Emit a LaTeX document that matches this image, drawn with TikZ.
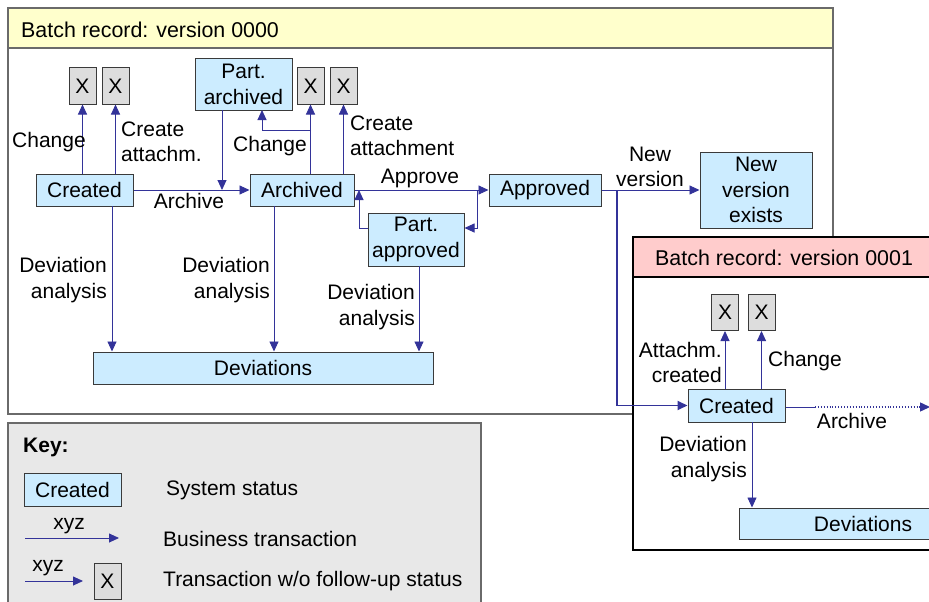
\documentclass[tikz,border=0pt]{standalone}
\usepackage{fontspec}
\setmainfont{Liberation Sans}
\usetikzlibrary{arrows.meta,calc}
\definecolor{statblue}{HTML}{CCECFF}
\definecolor{xgray}{HTML}{DDDDDD}
\definecolor{hdyellow}{HTML}{FFFFCC}
\definecolor{hdpink}{HTML}{FFCCCC}
\definecolor{keygray}{HTML}{E8E8E8}
\definecolor{arrblue}{HTML}{333399}
\definecolor{nodeborder}{HTML}{3A3A3A}
\definecolor{framegray}{HTML}{6A6A6A}
\begin{document}
\begin{tikzpicture}[x=1pt,y=-1pt,
  every node/.style={font=\fontsize{21}{25.5}\selectfont, inner sep=0pt},
  stat/.style={draw=nodeborder, fill=statblue, line width=1pt, minimum height=32pt, align=center},
  xbox/.style={draw=nodeborder, fill=xgray, line width=1pt, minimum width=27pt, minimum height=36pt},
  arr/.style={draw=arrblue, line width=0.9pt, -{Triangle[length=10pt,width=9pt]}},
  conn/.style={draw=arrblue, line width=0.9pt},
  lblr/.style={anchor=east, align=right},
  lbll/.style={anchor=west, align=left},
  lblc/.style={align=center},
  titlefont/.style={font=\fontsize{21.4}{25}\selectfont}
]
\clip (0,0) rectangle (929,602);
% ---- frame version 0000
\fill[hdyellow] (8,8) rectangle (833,48);
\draw[framegray, line width=1.4pt] (8,8) rectangle (833,414);
\draw[framegray, line width=1.4pt] (8,48) -- (833,48);
\node[anchor=west, titlefont] (t0) at (21,30) {Batch record: version 0000};
% ---- frame version 0001
\fill[white] (633,237) rectangle (950,550);
\fill[hdpink] (633,237) rectangle (950,277);
\draw[black, line width=1.2pt] (950,237) -- (633,237) -- (633,550) -- (950,550);
\draw[black, line width=1.2pt] (633,277) -- (950,277);
\node[anchor=west, titlefont] (t1) at (655,258) {Batch record: version 0001};
% ---- key frame
\draw[framegray, fill=keygray, line width=1.2pt] (8,423) rectangle (481,615);

% ---- nodes, version 0000
\node[stat, minimum width=97pt] (C1) at (84.5,190) {Created};
\node[stat, minimum width=104pt] (Ar) at (302,190) {Archived};
\node[stat, minimum width=97pt, minimum height=51pt] (PA) at (243.5,84.5) {Part.\\archived};
\node[xbox] (X1) at (82.5,86) {X};
\node[xbox] (X2) at (115.5,86) {X};
\node[xbox] (X3) at (310.5,86) {X};
\node[xbox] (X4) at (343.5,86) {X};
\node[stat, minimum width=112pt] (Ap) at (545,190) {Approved};
\node[stat, minimum width=96pt, minimum height=53pt] (PAp) at (416,239.5) {Part.\\approved};
\node[stat, minimum width=112pt, minimum height=76pt] (NV) at (756,190) {New\\version\\exists};
\node[stat, minimum width=340pt] (D1) at (263,368) {Deviations};

% ---- nodes, version 0001
\node[xbox] (X5) at (725,312.5) {X};
\node[xbox] (X6) at (761.5,312.5) {X};
\node[stat, minimum width=97pt, minimum height=33pt] (C2) at (736.5,405.5) {Created};
\node[stat, minimum width=248pt, minimum height=31pt] (D2) at (863,523.5) {Deviations};

% ---- helper coordinates
\coordinate (paDrop) at (222,110);
\coordinate (chgBr) at (311,130);
\coordinate (chgUp) at (262,110);
\coordinate (apBr) at (477,190);
\coordinate (papBack) at (359,190);
\coordinate (nvBr) at (617,190);
\coordinate (arcEnd) at (930,407);
\coordinate (arcDot) at (815,407);
\coordinate (d1a) at (112,206);
\coordinate (d1b) at (274,206);
\coordinate (d1c) at (419,266);
\coordinate (d2a) at (752,422);

% ---- connectors, version 0000
\draw[arr] (C1.north -| X1) -- (X1.south);
\draw[arr] (C1.north -| X2) -- (X2.south);
\draw[arr] (C1.east) -- (Ar.west);
\draw[arr] (paDrop) -- (paDrop |- C1.east);
\draw[arr] (Ar.north -| X3) -- (X3.south);
\draw[conn] (chgBr) -| ($(chgUp)+(0,10)$);
\draw[arr] ($(chgUp)+(0,10)$) -- (chgUp);
\draw[arr] (Ar.north -| X4) -- (X4.south);
\draw[arr] (Ar.east) -- (Ap.west);
\draw[arr] (apBr) |- ([yshift=11.5pt]PAp.east);
\draw[arr] ([yshift=11.5pt]PAp.west) -| (papBack);
\draw[arr] (Ap.east) -- (NV.west);
\draw[arr, line width=1.8pt] (nvBr) |- (C2.west);
\draw[arr] (d1a) -- (d1a |- D1.north);
\draw[arr] (d1b) -- (d1b |- D1.north);
\draw[arr] (d1c) -- (d1c |- D1.north);

% ---- connectors, version 0001
\draw[arr] (C2.north -| X5) -- (X5.south);
\draw[arr] (C2.north -| X6) -- (X6.south);
\draw[conn] (C2.east |- arcDot) -- (arcDot);
\draw[arr, dotted, line width=1.4pt] (arcDot) -- (arcEnd);
\draw[arr] (d2a) -- (d2a |- D2.north);

% ---- labels, version 0000
\node[lbll] (lChg1) at (12,142) {Change};
\node[lbll] (lCa1) at (121,142) {Create\\attachm.};
\node[lblc] (lArc1) at (189,201) {Archive};
\node[lbll] (lChg2) at (233,146) {Change};
\node[lbll] (lCa2) at (350,136) {Create\\attachment};
\node[lblc] (lApp) at (420,178) {Approve};
\node[lblc] (lNv) at (650,167) {New\\version};
\node[lblr] (lDa1) at (107,280) {Deviation\\analysis};
\node[lblr] (lDa2) at (270,280) {Deviation\\analysis};
\node[lblr] (lDa3) at (415,307) {Deviation\\analysis};

% ---- labels, version 0001
\node[lblr] (lAc) at (722,362.5) {Attachm.\\created};
\node[lbll] (lChg3) at (768,361) {Change};
\node[lblc] (lArc2) at (852,421) {Archive};
\node[lblr] (lDa4) at (747,459) {Deviation\\analysis};

% ---- key
\node[anchor=west, font=\fontsize{21}{25}\selectfont\bfseries] (kKey) at (23,447) {Key:};
\node[stat, minimum width=97pt, minimum height=33pt] (kC) at (72.5,489.5) {Created};
\node[anchor=west] (kSys) at (166,490) {System status};
\coordinate (k1a) at (25,538);
\coordinate (k1b) at (119,538);
\draw[arr] (k1a) -- (k1b);
\node[lblc] (kXyz1) at (69,526) {xyz};
\node[anchor=west] (kBus) at (163,539) {Business transaction};
\node[xbox] (kX) at (107.5,581) {X};
\coordinate (k2a) at (25,581);
\coordinate (k2b) at (83,581);
\draw[arr] (k2a) -- (k2b);
\node[lblc] (kXyz2) at (48,568) {xyz};
\node[anchor=west] (kTr) at (163,581) {Transaction w/o follow-up status};
\end{tikzpicture}
\end{document}
